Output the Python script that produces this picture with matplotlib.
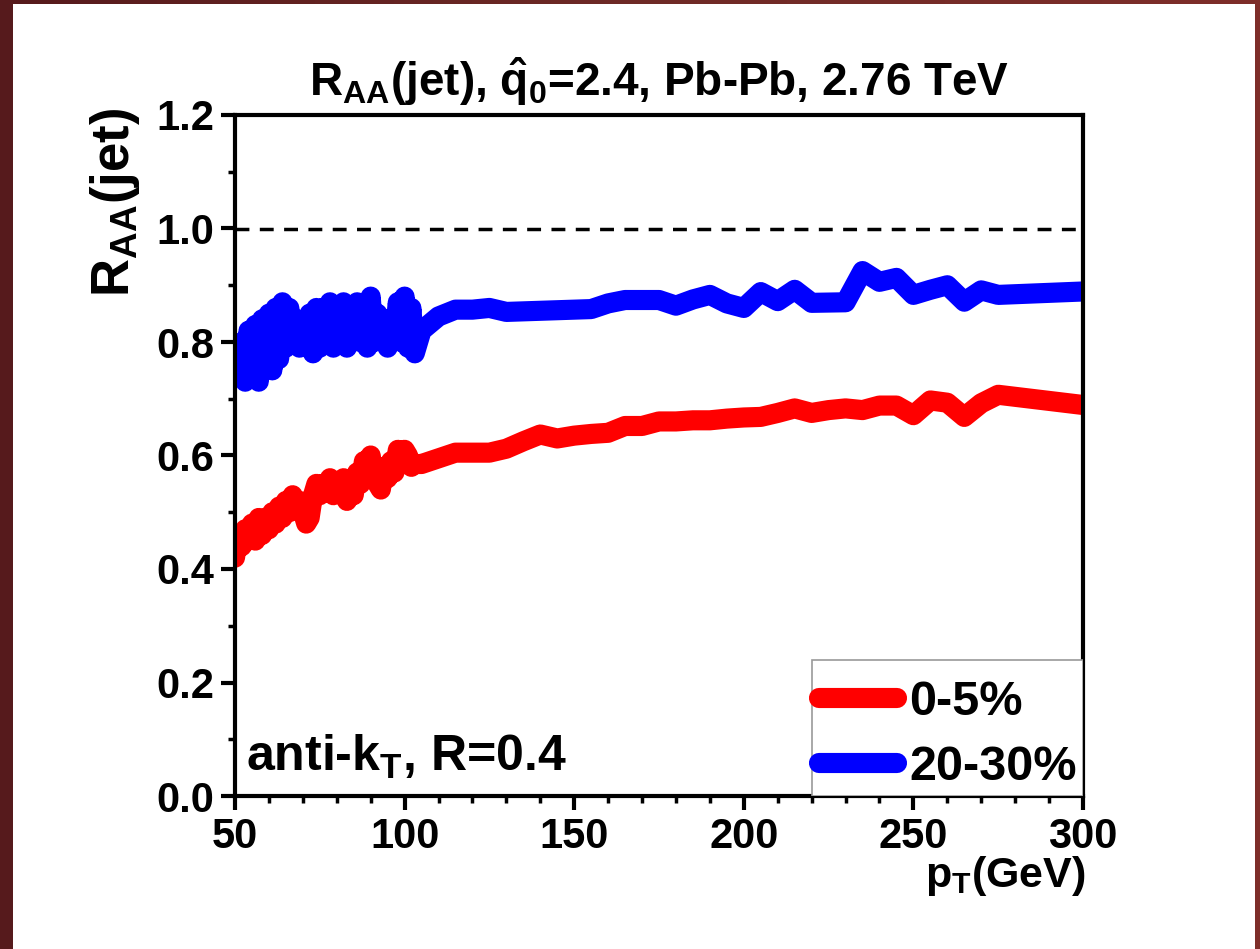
import numpy as np
import matplotlib
matplotlib.use("Agg")
import matplotlib.pyplot as plt
from matplotlib.ticker import MultipleLocator

plt.rcParams['font.family'] = ['Liberation Sans', 'DejaVu Sans']
plt.rcParams['font.weight'] = 'bold'
plt.rcParams['mathtext.fontset'] = 'custom'
plt.rcParams['mathtext.rm'] = 'Liberation Sans:bold'
plt.rcParams['mathtext.it'] = 'Liberation Sans:bold'
plt.rcParams['mathtext.bf'] = 'Liberation Sans:bold'

# 0-5% centrality
pt_central = [50, 51, 52, 53, 54, 55, 56, 57, 58, 59, 60, 61, 62, 63, 64, 65, 66, 67, 68, 69,
              70, 71, 72, 73, 74, 75, 76, 77, 78, 79, 80, 81, 82, 83, 84, 85, 86, 87, 88, 89,
              90, 91, 92, 93, 94, 95, 96, 97, 98, 99, 100, 101, 102, 103,
              105, 110, 115, 120, 125, 130, 135, 140, 145, 150, 155, 160, 165, 170, 175, 180,
              185, 190, 195, 200, 205, 210, 215, 220, 225, 230, 235, 240, 245, 250, 255, 260,
              265, 270, 275, 300]
raa_central = [0.42, 0.46, 0.44, 0.47, 0.45, 0.48, 0.45, 0.49, 0.46, 0.49, 0.47, 0.50, 0.48, 0.51,
               0.49, 0.52, 0.50, 0.53, 0.51, 0.52, 0.50, 0.48, 0.49, 0.53, 0.55, 0.53, 0.55, 0.54,
               0.56, 0.53, 0.55, 0.54, 0.56, 0.52, 0.55, 0.53, 0.57, 0.55, 0.59, 0.57, 0.60, 0.56,
               0.55, 0.54, 0.58, 0.56, 0.59, 0.57, 0.61, 0.59, 0.61, 0.60, 0.58, 0.585,
               0.585, 0.595, 0.605, 0.605, 0.605, 0.612, 0.625, 0.637, 0.630, 0.635, 0.638, 0.640,
               0.652, 0.652, 0.660, 0.660, 0.662, 0.662, 0.665, 0.667, 0.668, 0.675, 0.683, 0.675,
               0.680, 0.683, 0.680, 0.688, 0.688, 0.671, 0.697, 0.693, 0.668, 0.692, 0.707, 0.689]

# 20-30% centrality
pt_peripheral = [50, 51, 52, 53, 54, 55, 56, 57, 58, 59, 60, 61, 62, 63, 64, 65, 66, 67, 68, 69,
                 70, 71, 72, 73, 74, 75, 76, 77, 78, 79, 80, 81, 82, 83, 84, 85, 86, 87, 88, 89,
                 90, 91, 92, 93, 94, 95, 96, 97, 98, 99, 100, 101, 102, 103,
                 105, 110, 115, 120, 125, 130, 140, 150, 155, 160, 165, 175, 180, 185, 190, 195,
                 200, 205, 210, 215, 220, 230, 235, 240, 245, 250, 255, 260, 265, 270, 275, 300]
raa_peripheral = [0.79, 0.74, 0.80, 0.73, 0.82, 0.76, 0.83, 0.73, 0.84, 0.76, 0.85, 0.75, 0.86,
                  0.77, 0.87, 0.79, 0.86, 0.80, 0.84, 0.79, 0.82, 0.80, 0.85, 0.78, 0.86, 0.79,
                  0.86, 0.80, 0.87, 0.79, 0.86, 0.80, 0.87, 0.79, 0.86, 0.81, 0.87, 0.80, 0.85,
                  0.79, 0.88, 0.80, 0.85, 0.81, 0.84, 0.79, 0.84, 0.81, 0.87, 0.80, 0.88, 0.79,
                  0.86, 0.78,
                  0.82, 0.845, 0.857, 0.857, 0.860, 0.853, 0.855, 0.857, 0.858, 0.868, 0.874,
                  0.874, 0.864, 0.875, 0.883, 0.868, 0.860, 0.888, 0.872, 0.892, 0.869, 0.870,
                  0.925, 0.906, 0.913, 0.883, 0.892, 0.900, 0.871, 0.891, 0.883, 0.889]

fig = plt.figure(figsize=(12.6, 9.49), dpi=100)

# dark red frame around a white page
bg = fig.add_axes([0, 0, 1, 1], zorder=-10)
grad = np.linspace(0, 1, 256).reshape(1, -1)
bg.imshow(grad, aspect='auto', extent=[0, 1, 0, 1],
          cmap=matplotlib.colors.LinearSegmentedColormap.from_list('frame', ['#561a1c', '#6e2a26', '#7e2e2a']))
bg.add_patch(plt.Rectangle((13 / 1260, 0), (1255 - 13) / 1260, 1 - 4 / 949,
                           facecolor='white', edgecolor='none'))
bg.set_xlim(0, 1)
bg.set_ylim(0, 1)
bg.axis('off')

ax = fig.add_axes([235 / 1260, 1 - 796 / 949, (1083 - 235) / 1260, (796 - 115) / 949])
ax.set_facecolor('none')

ax.plot(pt_central, raa_central, color='red', lw=14.5, solid_capstyle='round',
        solid_joinstyle='round', label='0-5%')
ax.plot(pt_peripheral, raa_peripheral, color='blue', lw=14.5, solid_capstyle='round',
        solid_joinstyle='round', label='20-30%')
ax.axhline(1.0, color='black', lw=2.5, ls=(0, (4, 3)))

ax.set_xlim(50, 300)
ax.set_ylim(0, 1.2)
ax.xaxis.set_major_locator(MultipleLocator(50))
ax.xaxis.set_minor_locator(MultipleLocator(10))
ax.yaxis.set_major_locator(MultipleLocator(0.2))
ax.yaxis.set_minor_locator(MultipleLocator(0.1))
ax.yaxis.set_major_formatter(matplotlib.ticker.FormatStrFormatter('%.1f'))
ax.tick_params(which='major', direction='out', length=10, width=3, labelsize=30, pad=5)
ax.tick_params(which='minor', direction='out', length=5, width=2.5)
for s in ax.spines.values():
    s.set_linewidth(3)

ax.set_title(r'R$_{AA}$(jet), $\hat{q}_0$=2.4, Pb-Pb, 2.76 TeV', fontsize=33,
             fontweight='bold', pad=14)
ax.set_ylabel(r'R$_{AA}$(jet)', fontsize=38, fontweight='bold')
ax.yaxis.set_label_coords(-0.11, 0.872)
ax.set_xlabel(r'p$_T$(GeV)', fontsize=31, fontweight='bold', ha='right')
ax.xaxis.set_label_coords(1.003, -0.085)

ax.text(0.013, 0.058, r'anti-k$_T$, R=0.4', transform=ax.transAxes, fontsize=36,
        fontweight='bold', va='center', ha='left')

# legend box drawn separately so its padding can be set freely
ax.add_patch(plt.Rectangle((0.680, 0.0), 0.320, 0.2, transform=ax.transAxes,
                           facecolor='white', edgecolor='#999999', lw=1.2, zorder=4))
leg = ax.legend(loc='center left', bbox_to_anchor=(0.689, 0.090), borderaxespad=0,
                borderpad=0, fontsize=35, frameon=False, handlelength=1.6,
                handletextpad=0.25, labelspacing=0.41)
leg.set_zorder(5)

fig.savefig('out.png', dpi=100)
